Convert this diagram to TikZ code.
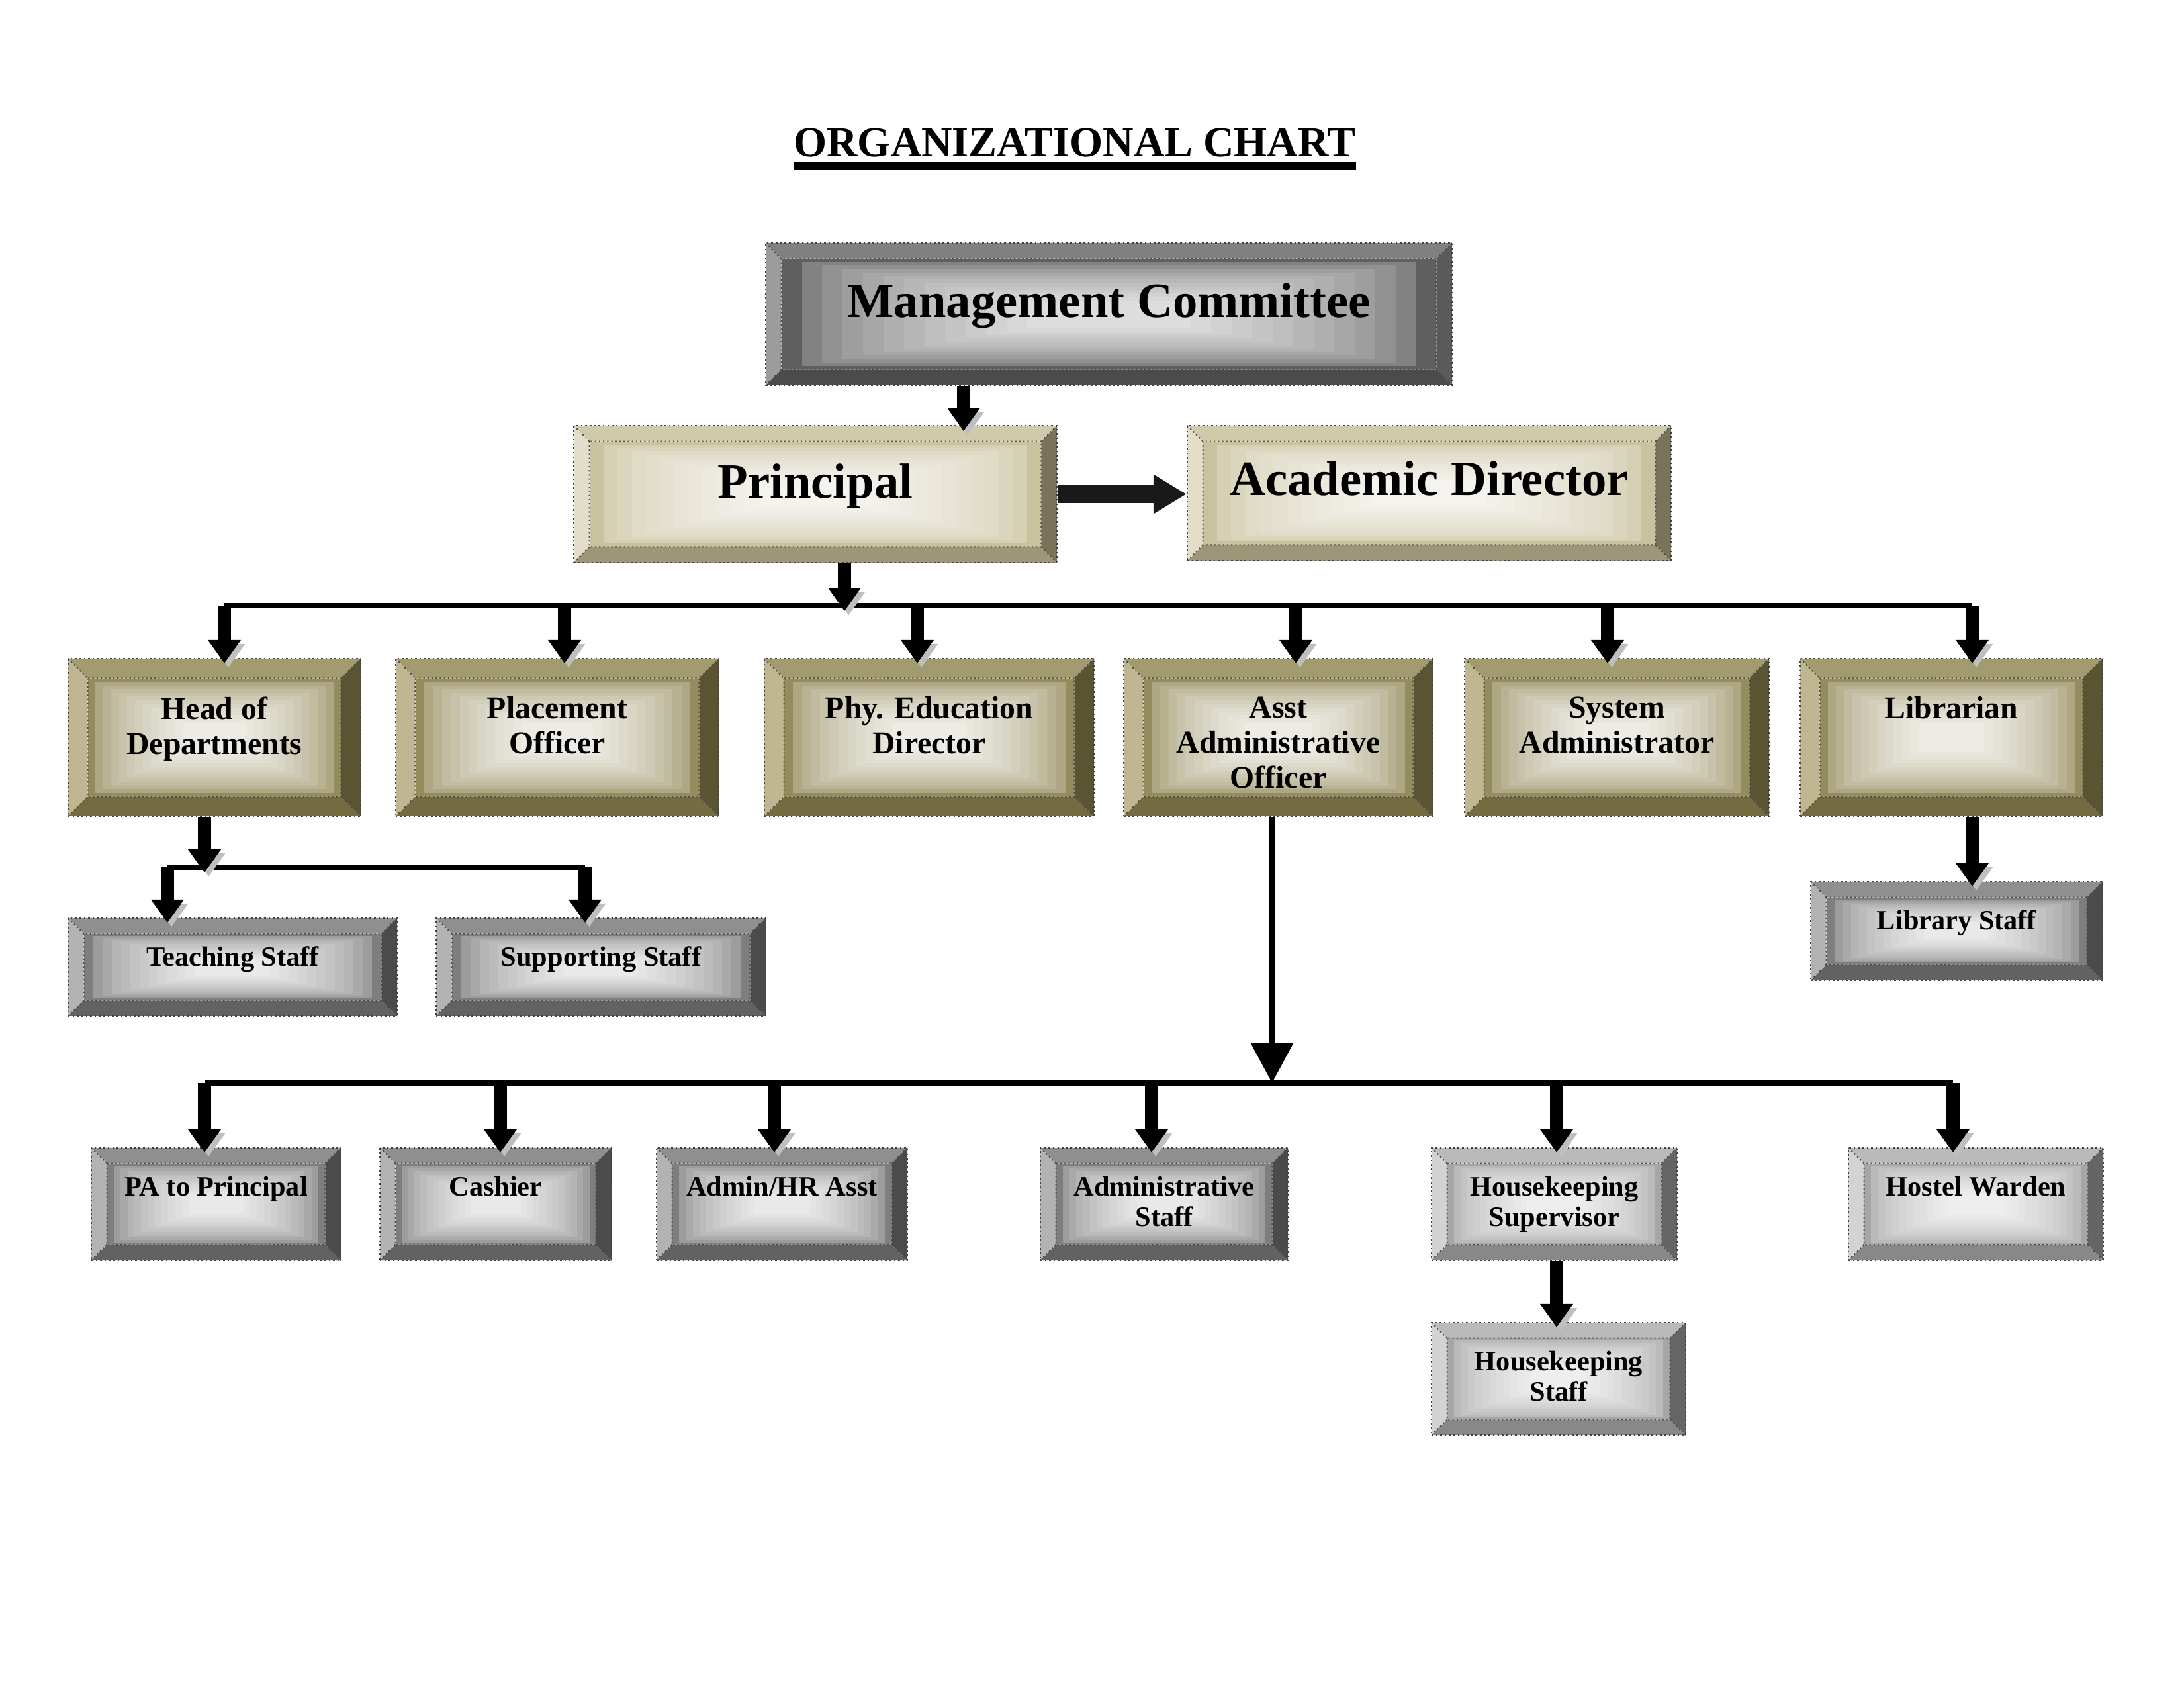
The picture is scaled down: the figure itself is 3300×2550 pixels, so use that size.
\documentclass[tikz,border=0pt]{standalone}
\usepackage{fontspec}
\setmainfont{Liberation Serif}
\usetikzlibrary{arrows.meta,calc}

\newcommand{\px}{0.0846667mm}

% bevel colours: T top, L left, R right, B bottom, E inner edge, C inner centre
\definecolor{olT}{HTML}{A39B70}\definecolor{olL}{HTML}{BEB791}\definecolor{olR}{HTML}{5A5433}
\definecolor{olB}{HTML}{746B41}\definecolor{olE}{HTML}{958C5D}\definecolor{olC}{HTML}{EDECE4}
\definecolor{khT}{HTML}{D0CAAB}\definecolor{khL}{HTML}{E2DEC9}\definecolor{khR}{HTML}{7A735A}
\definecolor{khB}{HTML}{9E9678}\definecolor{khE}{HTML}{C9C29E}\definecolor{khC}{HTML}{F4F3ED}
\definecolor{dkT}{HTML}{808080}\definecolor{dkL}{HTML}{9C9C9C}\definecolor{dkR}{HTML}{5A5A5A}
\definecolor{dkB}{HTML}{4B4B4B}\definecolor{dkE}{HTML}{5F5F5F}\definecolor{dkC}{HTML}{DDDDDD}
\definecolor{mdT}{HTML}{8F8F8F}\definecolor{mdL}{HTML}{B3B3B3}\definecolor{mdR}{HTML}{4B4B4B}
\definecolor{mdB}{HTML}{626262}\definecolor{mdE}{HTML}{7E7E7E}\definecolor{mdC}{HTML}{E9E9E9}
\definecolor{ltT}{HTML}{BABABA}\definecolor{ltL}{HTML}{D3D3D3}\definecolor{ltR}{HTML}{656565}
\definecolor{ltB}{HTML}{888888}\definecolor{ltE}{HTML}{A6A6A6}\definecolor{ltC}{HTML}{EEEEEE}

\tikzset{
  bw/.store in=\bw, bw=2mm,
  box/.style 2 args={minimum width=#1*\px, minimum height=#2*\px, inner sep=0pt},
  bevel/.style={
    draw=black!75, densely dotted, line width=0.6pt,
    path picture={
      \coordinate (bv1) at (path picture bounding box.north west);
      \coordinate (bv2) at (path picture bounding box.north east);
      \coordinate (bv3) at (path picture bounding box.south east);
      \coordinate (bv4) at (path picture bounding box.south west);
      \coordinate (bv5) at ([shift={(\bw,-\bw)}]bv1);
      \coordinate (bv6) at ([shift={(-\bw,-\bw)}]bv2);
      \coordinate (bv7) at ([shift={(-\bw,\bw)}]bv3);
      \coordinate (bv8) at ([shift={(\bw,\bw)}]bv4);
      \fill[#1T] (bv1) -- (bv2) -- (bv6) -- (bv5) -- cycle;
      \fill[#1R] (bv2) -- (bv3) -- (bv7) -- (bv6) -- cycle;
      \fill[#1B] (bv3) -- (bv4) -- (bv8) -- (bv7) -- cycle;
      \fill[#1L] (bv4) -- (bv1) -- (bv5) -- (bv8) -- cycle;
      % stepped glow towards the centre
      \foreach \k [evaluate=\k as \p using int(100*(\k/12)^0.5)] in {0,...,12}
        \fill[#1C!\p!#1E] ($(bv5)!\k/32!(bv7)$) rectangle ($(bv7)!\k/32!(bv5)$);
      \draw[black!70, densely dotted, line width=0.5pt] (bv5) rectangle (bv7)
        (bv1) -- (bv5) (bv2) -- (bv6) (bv3) -- (bv7) (bv4) -- (bv8);
    }
  },
  txtbig/.style={font=\fontsize{18}{21}\selectfont\bfseries, align=center, anchor=north, inner sep=0pt},
  txtmid/.style={font=\fontsize{11.5}{12.8}\selectfont\bfseries, align=center, anchor=north, inner sep=0pt, yshift=-14pt},
  txtsmall/.style={font=\fontsize{10.2}{11.1}\selectfont\bfseries, align=center, anchor=north, inner sep=0pt, yshift=-10.4pt},
  bus/.style={line width=2pt},
  darr/.style={line width=4.8pt, -{Triangle[width=11.5pt,length=8.5pt]}, shorten >=-2pt,
    preaction={draw=black!25, transform canvas={shift={(1.5pt,-1.5pt)}}}},
  thinarr/.style={line width=2pt, -{Triangle[width=15pt,length=14.5pt]}},
  fatarr/.style={line width=6.75pt, -{Triangle[width=13.5pt,length=12pt]}, draw=black!90}
}

\begin{document}
\begin{tikzpicture}[x=\px, y=-\px]
\fill[white] (0,0) rectangle (3300,2550);
\useasboundingbox (0,0) rectangle (3300,2550);

% title
\node[anchor=base, inner sep=0pt, font=\fontsize{15.5}{18}\selectfont\bfseries] (ttl) at (1624,237) {ORGANIZATIONAL CHART};
\draw[line width=3pt] ([yshift=-3.4pt]ttl.base west) -- ([yshift=-3.4pt]ttl.base east);

% top
\node[box={1037}{215}, bevel=dk, label={[txtbig, yshift=-14.8pt]north:Management Committee}] (mc) at (1675.5,474.5) {};
\node[box={730}{207}, bevel=kh, label={[txtbig, yshift=-14.1pt]north:Principal}] (prin) at (1232,746.5) {};
\node[box={731}{204}, bevel=kh, label={[txtbig, yshift=-13.1pt]north:Academic Director}] (acad) at (2159.5,745) {};

% middle row
\node[box={442}{238}, bevel=ol, bw=2.5mm, label={[txtmid]north:Head of\\Departments}] (hod) at (324,1114) {};
\node[box={488}{238}, bevel=ol, bw=2.5mm, label={[txtmid]north:Placement\\Officer}] (plc) at (842,1114) {};
\node[box={498}{238}, bevel=ol, bw=2.5mm, label={[txtmid]north:Phy. Education\\Director}] (phy) at (1404,1114) {};
\node[box={467}{238}, bevel=ol, bw=2.5mm, label={[txtmid]north:Asst\\Administrative\\Officer}] (aao) at (1931.5,1114) {};
\node[box={460}{238}, bevel=ol, bw=2.5mm, label={[txtmid]north:System\\Administrator}] (sysad) at (2443,1114) {};
\node[box={457}{238}, bevel=ol, bw=2.5mm, label={[txtmid]north:Librarian}] (lib) at (2948.5,1114) {};

% staff under hod and librarian
\node[box={497}{148}, bevel=md, label={[txtsmall]north:Teaching Staff}] (teach) at (351.5,1461) {};
\node[box={498}{148}, bevel=md, label={[txtsmall]north:Supporting Staff}] (supp) at (908,1461) {};
\node[box={441}{149}, bevel=md, label={[txtsmall]north:Library Staff}] (libst) at (2956.5,1406.5) {};

% bottom row
\node[box={377}{170}, bevel=md, label={[txtsmall]north:PA to Principal}] (pa) at (326.5,1819) {};
\node[box={350}{170}, bevel=md, label={[txtsmall]north:Cashier}] (cash) at (749,1819) {};
\node[box={379}{170}, bevel=md, label={[txtsmall]north:Admin/HR Asst}] (hr) at (1181.5,1819) {};
\node[box={374}{170}, bevel=md, label={[txtsmall]north:Administrative\\Staff}] (adst) at (1759,1819) {};
\node[box={371}{170}, bevel=lt, label={[txtsmall]north:Housekeeping\\Supervisor}] (hks) at (2348.5,1819) {};
\node[box={385}{170}, bevel=lt, label={[txtsmall]north:Hostel Warden}] (hw) at (2985.5,1819) {};
\node[box={384}{170}, bevel=lt, label={[txtsmall]north:Housekeeping\\Staff}] (hkst) at (2355,2083) {};

% connectors
\coordinate (tprin) at (1456,643);
\draw[darr] (mc.south -| tprin) -- (tprin);
\draw[fatarr] (prin.east) -- (prin.east -| acad.west);

\foreach \x/\n in {339/hod,853/plc,1386/phy,1958/aao,2429/sysad,2980/lib}
  \coordinate (t\n) at (\x,915);
\draw[bus] (thod) -- (tlib);
\coordinate (pbus) at (1276,915);
\draw[darr] (prin.south -| pbus) -- (pbus);
\foreach \n in {hod,plc,phy,aao,sysad,lib}
  \draw[darr] (t\n) -- (t\n |- \n.north);

\coordinate (hsub) at (309,1310);
\coordinate (tteach) at (253,1310);
\coordinate (tsupp) at (884,1310);
\draw[bus] (tteach) -- (tsupp);
\draw[darr] (hod.south -| hsub) -- (hsub);
\draw[darr] (tteach) -- (tteach |- teach.north);
\draw[darr] (tsupp) -- (tsupp |- supp.north);

\draw[darr] (lib.south -| tlib) -- (tlib |- libst.north);

\foreach \x/\n in {309/pa,756/cash,1170/hr,1740/adst,2352/hks,2951/hw}
  \coordinate (t\n) at (\x,1636);
\draw[bus] (tpa) -- (thw);
\coordinate (aaobus) at (1922,1636);
\draw[thinarr] (aao.south -| aaobus) -- (aaobus);
\foreach \n in {pa,cash,hr,adst,hks,hw}
  \draw[darr] (t\n) -- (t\n |- \n.north);
\draw[darr] (hks.south -| thks) -- (thks |- hkst.north);
\end{tikzpicture}
\end{document}
